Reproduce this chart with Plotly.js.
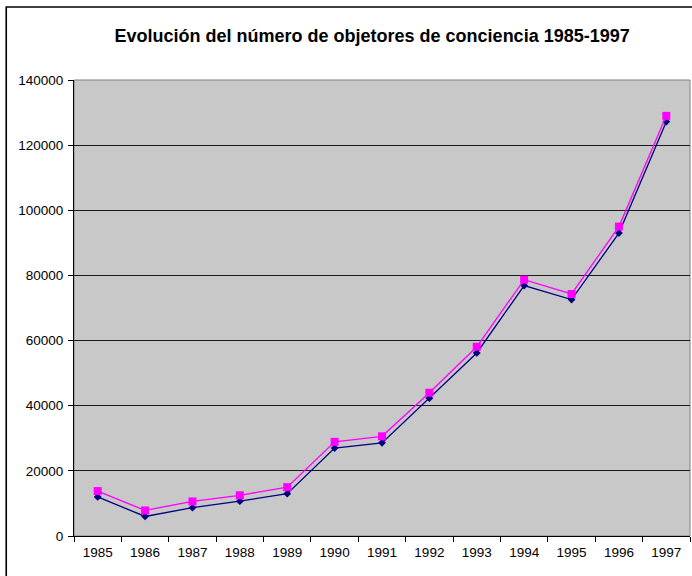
<!DOCTYPE html>
<html>
<head>
<meta charset="utf-8">
<script src="https://cdn.plot.ly/plotly-3.0.1.min.js"></script>
<style>
html, body { margin: 0; padding: 0; overflow: hidden; background: #fff; }
#chart { width: 720px; height: 590px; }
</style>
</head>
<body>
<div id="chart"></div>
<script>
const years = ["1985","1986","1987","1988","1989","1990","1991","1992","1993","1994","1995","1996","1997"];
const serieAzul = [12000, 6000, 8700, 10700, 13000, 27000, 28600, 42300, 56200, 76900, 72600, 93000, 127200];
const serieMagenta = [13800, 7850, 10600, 12500, 15000, 28900, 30600, 44000, 58100, 78700, 74300, 95000, 129000];
const yTicks = [0, 20000, 40000, 60000, 80000, 100000, 120000, 140000];
const titulo = "Evolución del número de objetores de conciencia 1985-1997";

const traces = [
  {
    x: years, y: serieAzul, type: "scatter", mode: "lines+markers", name: "Serie 1",
    line: { color: "#000080", width: 1.3 },
    marker: { symbol: "diamond", size: 6, color: "#000080" }
  },
  {
    x: years, y: serieMagenta, type: "scatter", mode: "lines+markers", name: "Serie 2",
    line: { color: "#FF00FF", width: 1.3 },
    marker: { symbol: "square", size: 8, color: "#FF00FF" }
  }
];

const layout = {
  width: 720, height: 590,
  margin: { l: 74, r: 30, t: 80, b: 54 },
  paper_bgcolor: "#ffffff",
  plot_bgcolor: "#c8c8c8",
  showlegend: false,
  font: { family: "Liberation Sans, Arial, sans-serif", size: 13.5, color: "#000" },
  title: {
    text: titulo,
    font: { family: "Liberation Sans, Arial, sans-serif", size: 18, weight: "bold", color: "#000" },
    xref: "paper", x: 0.484, xanchor: "center",
    yref: "container", y: 1 - 36 / 590, yanchor: "middle"
  },
  xaxis: {
    type: "category",
    range: [-0.5, years.length - 0.5],
    tickvals: years, ticktext: years,
    tickson: "boundaries",
    ticks: "outside", ticklen: 5, tickcolor: "#000", tickwidth: 1,
    ticklabelstandoff: 4,
    showgrid: false, showline: true, linecolor: "#000", linewidth: 1,
    zeroline: false, fixedrange: true,
    tickfont: { size: 13.5 }
  },
  yaxis: {
    range: [0, 140000],
    tickvals: yTicks,
    tickformat: "d",
    ticks: "outside", ticklen: 5, tickcolor: "#000", tickwidth: 1,
    ticklabelstandoff: 2,
    showgrid: true, gridcolor: "#1a1a1a", gridwidth: 1,
    showline: true, linecolor: "#000", linewidth: 1,
    zeroline: false, fixedrange: true,
    tickfont: { size: 13.5 }
  },
  shapes: [
    {
      type: "rect", xref: "paper", yref: "paper",
      x0: -0.110, x1: 1.2, y0: -0.3, y1: 1.16,
      line: { color: "#000", width: 1.6 }, fillcolor: "rgba(0,0,0,0)", layer: "above"
    },
    {
      type: "rect", xref: "paper", yref: "paper",
      x0: 0, x1: 1, y0: 0, y1: 1,
      line: { color: "#808080", width: 1 }, fillcolor: "rgba(0,0,0,0)", layer: "below"
    }
  ]
};

Plotly.newPlot("chart", traces, layout, { displayModeBar: false, staticPlot: true });
</script>
</body>
</html>
